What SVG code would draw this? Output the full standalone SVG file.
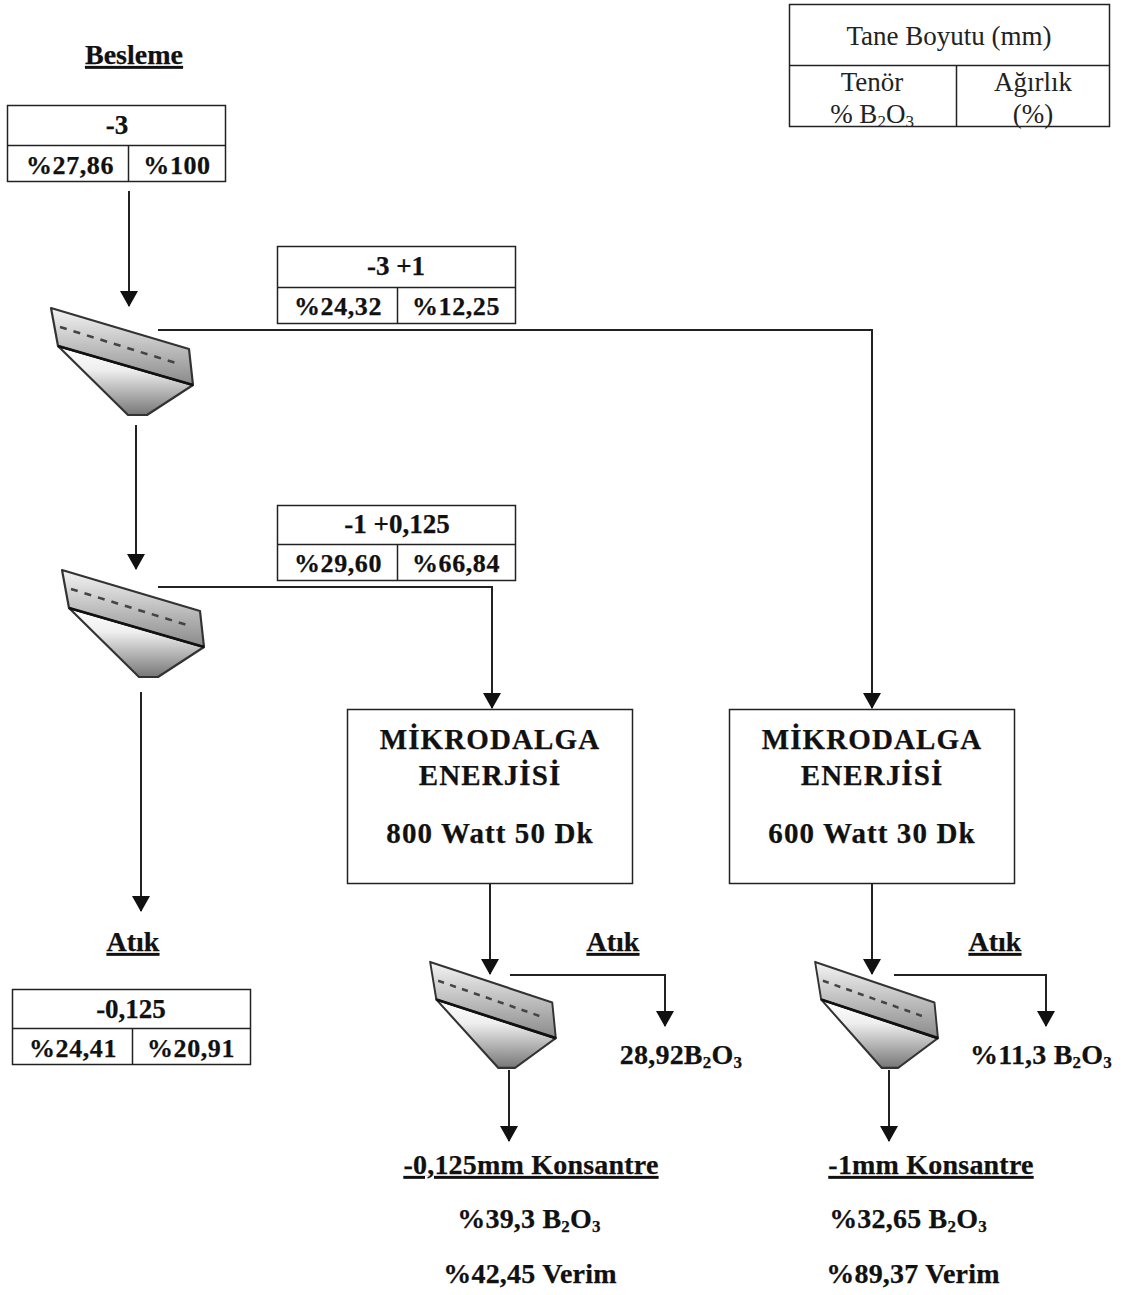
<svg xmlns="http://www.w3.org/2000/svg" xmlns:xlink="http://www.w3.org/1999/xlink" width="1127" height="1295" viewBox="0 0 1127 1295">
<style>
text{font-family:"Liberation Serif","Times New Roman",serif;fill:#111;text-anchor:middle}
.b{font-weight:bold;font-size:27px;stroke:#111;stroke-width:.25}
.h{font-weight:bold;font-size:28px;stroke:#111;stroke-width:.25}
.c{font-weight:bold;font-size:26px;letter-spacing:.6px;stroke:#111;stroke-width:.25}
.d{font-weight:bold;font-size:28px;stroke:#111;stroke-width:.25;letter-spacing:.2px}
.t{font-weight:bold;font-size:29px;letter-spacing:1.100px;stroke:#111;stroke-width:.25}
.r{font-size:27px;fill:#222}
.u{text-decoration:underline}
.box{fill:#fff;stroke:#222;stroke-width:1.5}
.ln{fill:none;stroke:#222;stroke-width:2}
.cell{stroke:#222;stroke-width:1.5;fill:none}
.sub{font-size:17px}
</style>
<defs>
<linearGradient id="g1" x1="0" y1="0" x2="0" y2="1"><stop offset="0" stop-color="#f4f4f4"/><stop offset="1" stop-color="#8a8a8a"/></linearGradient>
<linearGradient id="g2" x1="0" y1="0" x2="0" y2="1"><stop offset="0" stop-color="#ffffff"/><stop offset=".35" stop-color="#eeeeee"/><stop offset="1" stop-color="#777"/></linearGradient>
<marker id="a" markerUnits="userSpaceOnUse" markerWidth="18" markerHeight="20" refX="15" refY="9" orient="auto"><path d="M0 0L16 9L0 18Z" fill="#111"/></marker>
<g id="scr">
<path d="M58 346L193 385L147 415H128Z" fill="url(#g2)" stroke="#333" stroke-width="2.2" stroke-linejoin="round"/>
<path d="M51 308L189 349L193 385L58 346Z" fill="url(#g1)" stroke="#333" stroke-width="2.2" stroke-linejoin="round"/>
<path d="M58 346L193 385" stroke="#111" stroke-width="2.800"/>
<path d="M60 327L179 364" stroke="#444" stroke-width="2.600" stroke-dasharray="7 7.100"/>
</g>
</defs>
<rect width="1127" height="1295" fill="#fff"/>

<g id="connectors">
<path class="ln" marker-end="url(#a)" d="M129 191V306"/>
<path class="ln" marker-end="url(#a)" d="M158 330H872V708"/>
<path class="ln" marker-end="url(#a)" d="M136 425V569"/>
<path class="ln" marker-end="url(#a)" d="M158 587H492V708"/>
<path class="ln" marker-end="url(#a)" d="M141 692V911"/>
<path class="ln" marker-end="url(#a)" d="M490 884V974"/>
<path class="ln" marker-end="url(#a)" d="M872 884V974"/>
<path class="ln" marker-end="url(#a)" d="M510 975H665V1026"/>
<path class="ln" marker-end="url(#a)" d="M894 975H1046V1026"/>
<path class="ln" marker-end="url(#a)" d="M509 1070V1141"/>
<path class="ln" marker-end="url(#a)" d="M889 1070V1141"/>
</g>

<g id="legend">
<rect class="box" x="789.500" y="4.500" width="320" height="122"/>
<path class="cell" d="M789.500 65.500H1109.500M956.500 65.500V126.500"/>
<text class="r" x="949" y="45">Tane Boyutu (mm)</text>
<text class="r" x="872" y="91">Tenör</text>
<text class="r" x="872" y="123">% B<tspan class="sub" dy="4">2</tspan><tspan dy="-4">O</tspan><tspan class="sub" dy="4">3</tspan></text>
<text class="r" x="1033" y="91">Ağırlık</text>
<text class="r" x="1033" y="123">(%)</text>
</g>

<g id="besleme"><text class="h u" x="134" y="64">Besleme</text></g>

<g id="t1">
<rect class="box" x="7.500" y="105.500" width="218" height="76"/>
<path class="cell" d="M7.500 145.500H225.500M128.500 145.500V181.500"/>
<text class="b" x="117" y="134">-3</text>
<text class="c" x="70" y="174">%27,86</text>
<text class="c" x="177" y="174">%100</text>
</g>

<g id="t2">
<rect class="box" x="277.500" y="246.500" width="238" height="77"/>
<path class="cell" d="M277.500 287.500H515.500M397.500 287.500V323.500"/>
<text class="b" x="396" y="275">-3 +1</text>
<text class="c" x="338" y="315">%24,32</text>
<text class="c" x="456" y="315">%12,25</text>
</g>

<g id="t3">
<rect class="box" x="277.500" y="505.500" width="238" height="75"/>
<path class="cell" d="M277.500 544.500H515.500M397.500 544.500V580.500"/>
<text class="b" x="397" y="533">-1 +0,125</text>
<text class="c" x="338" y="572">%29,60</text>
<text class="c" x="456" y="572">%66,84</text>
</g>

<g id="t4">
<rect class="box" x="12.500" y="989.500" width="238" height="75"/>
<path class="cell" d="M12.500 1028.500H250.500M132.500 1028.500V1064.500"/>
<text class="b" x="131" y="1018">-0,125</text>
<text class="c" x="73" y="1057">%24,41</text>
<text class="c" x="191" y="1057">%20,91</text>
</g>

<g id="screen1"><use href="#scr"/></g>
<g id="screen2"><use href="#scr" x="11" y="262"/></g>
<g id="screen3"><use href="#scr" transform="translate(385 657) scale(.885 .99)"/></g>
<g id="screen4"><use href="#scr" transform="translate(771 657) scale(.865 .99)"/></g>

<g id="mw1">
<rect class="box" x="347.500" y="709.500" width="285" height="174"/>
<text class="t" x="490" y="749">MİKRODALGA</text>
<text class="t" x="490" y="785">ENERJİSİ</text>
<text class="t" x="490" y="843">800 Watt 50 Dk</text>
</g>
<g id="mw2">
<rect class="box" x="729.500" y="709.500" width="285" height="174"/>
<text class="t" x="872" y="749">MİKRODALGA</text>
<text class="t" x="872" y="785">ENERJİSİ</text>
<text class="t" x="872" y="843">600 Watt 30 Dk</text>
</g>

<g id="labels">
<text class="h u" x="133" y="951">Atık</text>
<text class="h u" x="613" y="951">Atık</text>
<text class="h u" x="995" y="951">Atık</text>
<text class="d" x="681" y="1064">28,92B<tspan class="sub" dy="4">2</tspan><tspan dy="-4">O</tspan><tspan class="sub" dy="4">3</tspan></text>
<text class="d" x="1041" y="1064">%11,3 B<tspan class="sub" dy="4">2</tspan><tspan dy="-4">O</tspan><tspan class="sub" dy="4">3</tspan></text>
<text class="d u" x="531" y="1174">-0,125mm Konsantre</text>
<text class="d" x="529" y="1228">%39,3 B<tspan class="sub" dy="4">2</tspan><tspan dy="-4">O</tspan><tspan class="sub" dy="4">3</tspan></text>
<text class="d" x="530" y="1283">%42,45 Verim</text>
<text class="d u" x="931" y="1174">-1mm Konsantre</text>
<text class="d" x="908" y="1228">%32,65 B<tspan class="sub" dy="4">2</tspan><tspan dy="-4">O</tspan><tspan class="sub" dy="4">3</tspan></text>
<text class="d" x="913" y="1283">%89,37 Verim</text>
</g>
</svg>
